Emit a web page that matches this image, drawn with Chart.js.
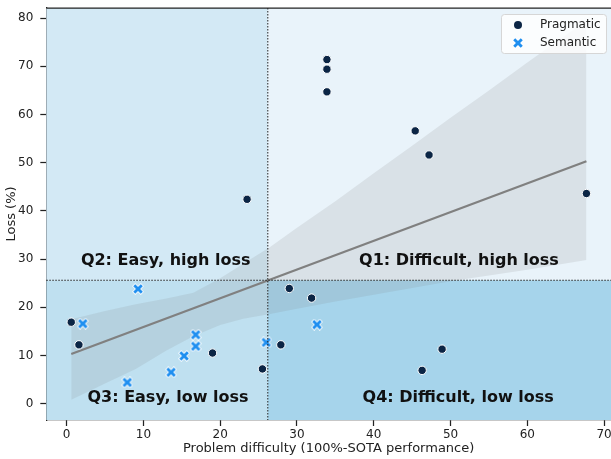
<!DOCTYPE html>
<html>
<head>
<meta charset="utf-8">
<script src="https://cdn.jsdelivr.net/npm/chart.js@4/dist/chart.umd.min.js"></script>
<style>
  html, body { margin: 0; padding: 0; background: #fff; overflow: hidden; }
  #wrap { width: 618px; height: 459px; }
</style>
</head>
<body>
<div id="wrap"><canvas id="chart"></canvas></div>
<script>
// data
const pragmaticX = [0.6, 1.6, 19.0, 25.5, 27.9, 29.0, 31.9, 46.3, 48.9, 23.5, 33.9, 33.9, 33.9, 45.4, 47.2, 67.7];
const pragmaticY = [16.9, 12.2, 10.5, 7.2, 12.2, 23.9, 21.9, 6.9, 11.3, 42.4, 71.4, 69.4, 64.7, 56.6, 51.6, 43.6];
const semanticX = [2.1, 9.3, 7.9, 13.6, 15.3, 16.8, 16.8, 26.0, 32.6];
const semanticY = [16.6, 23.8, 4.4, 6.5, 9.9, 14.3, 11.9, 12.7, 16.4];

// regression fit and its confidence band
const fitX = [0.6, 67.7];
const fitY = [10.3, 50.3];
const bandX = [0.6, 5, 9, 13, 16.5, 20, 23, 26.5, 30, 35, 40, 45, 50, 55, 60, 67.7];
const bandUpper = [17.5, 19.2, 20.6, 21.8, 23, 26, 29, 32.5, 36.5, 42, 47.8, 53.5, 59.3, 65, 70.8, 79.5];
const bandLower = [0.8, 4.2, 7.2, 11, 14, 16.3, 17.6, 18.6, 19.7, 21.2, 22.6, 24, 25.4, 26.6, 27.8, 29.8];

// quadrant split and labels
const splitX = 26.2;
const splitY = 25.6;
const quadLabels = ['Q1: Difficult, high loss', 'Q2: Easy, high loss', 'Q3: Easy, low loss', 'Q4: Difficult, low loss'];
const quadLabelX = [51.1, 12.9, 13.2, 51.0];
const quadLabelY = [29.6, 29.6, 1.2, 1.2];

const xTicks = [0, 10, 20, 30, 40, 50, 60, 70];
const yTicks = [0, 10, 20, 30, 40, 50, 60, 70, 80];

const FONT = "'DejaVu Sans', sans-serif";
const navy = '#0b2545';
const blue = '#1f8ff0';

function zip(xs, ys) { return xs.map((x, i) => ({ x: x, y: ys[i] })); }

// filled X marker with white edge, like seaborn's "X"
function makeX(size, color) {
  const c = document.createElement('canvas');
  c.width = size; c.height = size;
  const g = c.getContext('2d');
  const s = size / 2, a = s * 0.8, w = s * 0.34;
  g.translate(s, s);
  g.beginPath();
  g.moveTo(-a + w, -a); g.lineTo(0, -w); g.lineTo(a - w, -a); g.lineTo(a, -a + w);
  g.lineTo(w, 0); g.lineTo(a, a - w); g.lineTo(a - w, a); g.lineTo(0, w);
  g.lineTo(-a + w, a); g.lineTo(-a, a - w); g.lineTo(-w, 0); g.lineTo(-a, -a + w);
  g.closePath();
  g.lineJoin = 'miter';
  g.lineWidth = 1.6; g.strokeStyle = '#fff'; g.stroke();
  g.fillStyle = color; g.fill();
  return c;
}
const xMark = makeX(12, blue);

const quadrants = {
  id: 'quadrants',
  beforeDatasetsDraw(chart) {
    const { ctx, chartArea: a, scales: { x, y } } = chart;
    const px = x.getPixelForValue(splitX), py = y.getPixelForValue(splitY);
    ctx.save();
    ctx.fillStyle = '#d3e9f5'; ctx.fillRect(a.left, a.top, px - a.left, py - a.top);
    ctx.fillStyle = '#e9f3fa'; ctx.fillRect(px, a.top, a.right - px, py - a.top);
    ctx.fillStyle = '#bfe0f0'; ctx.fillRect(a.left, py, px - a.left, a.bottom - py);
    ctx.fillStyle = '#a6d4eb'; ctx.fillRect(px, py, a.right - px, a.bottom - py);
    ctx.restore();
  },
  afterDatasetsDraw(chart) {
    const { ctx, chartArea: a, scales: { x, y } } = chart;
    const px = x.getPixelForValue(splitX), py = y.getPixelForValue(splitY);
    ctx.save();
    ctx.strokeStyle = '#222'; ctx.lineWidth = 1; ctx.setLineDash([1.5, 1.5]);
    ctx.beginPath();
    ctx.moveTo(px, a.top); ctx.lineTo(px, a.bottom);
    ctx.moveTo(a.left, py); ctx.lineTo(a.right, py);
    ctx.stroke();
    ctx.setLineDash([]);

    ctx.fillStyle = '#111';
    ctx.font = 'bold 16px ' + FONT;
    ctx.textAlign = 'center'; ctx.textBaseline = 'middle';
    quadLabels.forEach((t, i) => ctx.fillText(t, x.getPixelForValue(quadLabelX[i]), y.getPixelForValue(quadLabelY[i])));

    // top spine
    ctx.strokeStyle = '#222'; ctx.lineWidth = 1.25;
    ctx.beginPath(); ctx.moveTo(a.left, a.top); ctx.lineTo(a.right, a.top); ctx.stroke();

    // legend box
    const lx = 501, ly = 14, lw = 105, lh = 39;
    ctx.fillStyle = 'rgba(255,255,255,0.8)'; ctx.strokeStyle = '#d6d6d6'; ctx.lineWidth = 1;
    ctx.beginPath(); ctx.roundRect(lx + 0.5, ly + 0.5, lw, lh, 3); ctx.fill(); ctx.stroke();
    ctx.fillStyle = navy;
    ctx.beginPath(); ctx.arc(518, 25, 4, 0, Math.PI * 2); ctx.fill();
    ctx.drawImage(xMark, 518 - 6, 43 - 6);
    ctx.fillStyle = '#222'; ctx.font = '12px ' + FONT; ctx.textAlign = 'left';
    ctx.fillText(chart.data.datasets[0].label, 540, 25);
    ctx.fillText(chart.data.datasets[1].label, 540, 43);
    ctx.restore();
  }
};

new Chart(document.getElementById('chart'), {
  type: 'scatter',
  data: {
    datasets: [
      { label: 'Pragmatic', data: zip(pragmaticX, pragmaticY), backgroundColor: navy, borderColor: '#fff',
        borderWidth: 1, pointRadius: 4.2, order: 0 },
      { label: 'Semantic', data: zip(semanticX, semanticY), pointStyle: xMark, pointRadius: 6, order: 0 },
      { label: 'fit', data: zip(fitX, fitY), showLine: true, borderColor: '#808080', borderWidth: 2.3,
        pointRadius: 0, order: 1 },
      { label: 'upper', data: zip(bandX, bandUpper), showLine: true, borderWidth: 0, pointRadius: 0, order: 2 },
      { label: 'lower', data: zip(bandX, bandLower), showLine: true, borderWidth: 0, pointRadius: 0,
        fill: '-1', backgroundColor: 'rgba(128,128,128,0.15)', order: 2 }
    ]
  },
  options: {
    responsive: true,
    maintainAspectRatio: false,
    animation: false,
    layout: { padding: { top: 8, right: 0, left: 0, bottom: 0 } },
    plugins: { legend: { display: false }, tooltip: { enabled: false } },
    scales: {
      x: {
        type: 'linear', min: -2.65, max: 70.9,
        afterBuildTicks: s => { s.ticks = xTicks.map(v => ({ value: v })); },
        afterFit: s => { s.height = 39; },
        grid: { drawOnChartArea: false, tickLength: 6, tickWidth: 1.25, color: '#222' },
        border: { color: '#222', width: 1.25 },
        ticks: { color: '#222', font: { family: FONT, size: 12 }, padding: 2, maxRotation: 0 },
        title: { display: true, text: 'Problem difficulty (100%-SOTA performance)', color: '#222',
          font: { family: FONT, size: 13 }, padding: { top: 0, bottom: 3 } }
      },
      y: {
        type: 'linear', min: -3.4, max: 82.1,
        afterBuildTicks: s => { s.ticks = yTicks.map(v => ({ value: v })); },
        afterFit: s => { s.width = 46.3; s.paddingTop = 0; s.paddingBottom = 0; },
        grid: { drawOnChartArea: false, tickLength: 6, tickWidth: 1.25, color: '#222' },
        border: { color: '#222', width: 1.25 },
        ticks: { color: '#222', font: { family: FONT, size: 12 }, padding: 7 },
        title: { display: true, text: 'Loss (%)', color: '#222',
          font: { family: FONT, size: 13 }, padding: { top: 4, bottom: 0 } }
      }
    }
  },
  plugins: [quadrants]
});
</script>
</body>
</html>
